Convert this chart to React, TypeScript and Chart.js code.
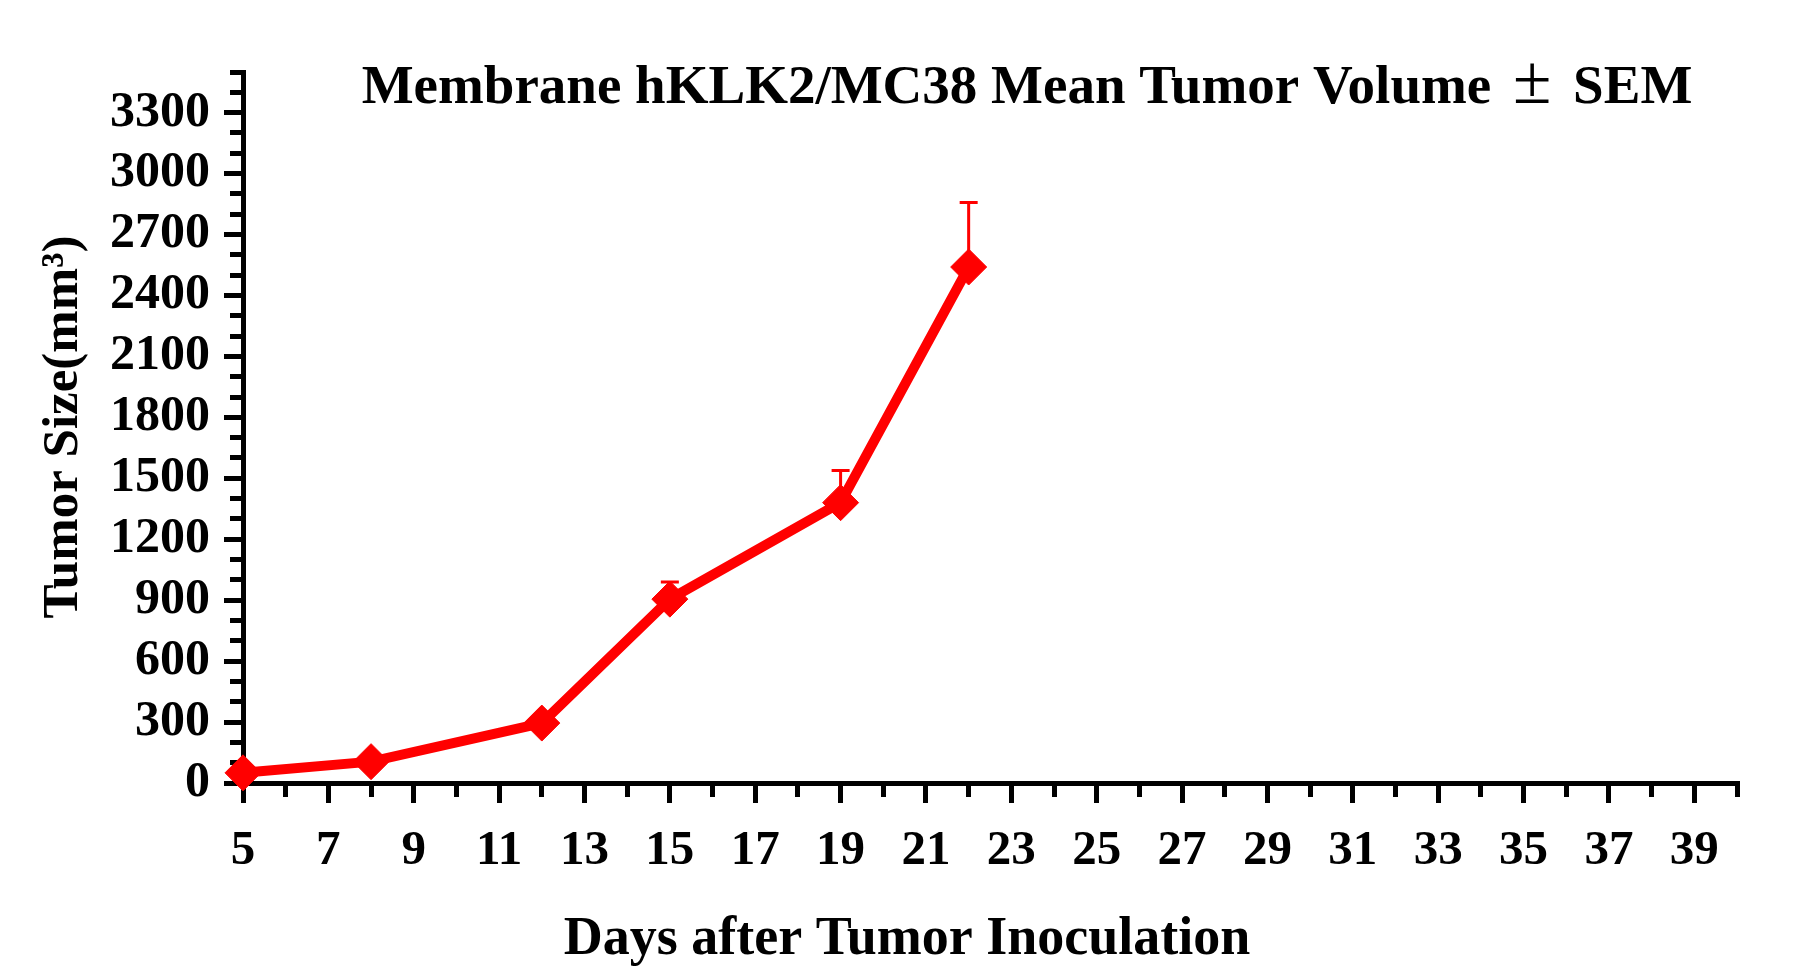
import { useEffect, useRef } from "react"
import { Chart, registerables } from "chart.js"

Chart.register(...registerables)

const days = [5, 8, 12, 15, 19, 22]
const meanVolume = [50, 105, 295, 905, 1380, 2540]
const semVolume = [8, 15, 35, 85, 158, 318]

const titleParts = ["Membrane hKLK2/MC38 Mean Tumor Volume ", "±", " SEM"]
const xTitle = "Days after Tumor Inoculation"
const yTitle = "Tumor Size(mm³)"

const X_MIN = 5
const X_MAX = 40
const Y_MIN = 0
const Y_MAX = 3500
const Y_LABEL_STEP = 300
const Y_LABEL_MAX = 3300

const RED = "#ff0000"
const FONT = "'Liberation Serif', 'Times New Roman', serif"

const errorBars = {
  id: "errorBars",
  beforeDatasetsDraw(chart: any) {
    const { ctx } = chart
    const x = chart.scales.x
    const y = chart.scales.y
    ctx.save()
    ctx.strokeStyle = RED
    ctx.lineWidth = 3
    days.forEach((d, i) => {
      const px = x.getPixelForValue(d)
      const py = y.getPixelForValue(meanVolume[i])
      const top = y.getPixelForValue(meanVolume[i] + semVolume[i])
      ctx.beginPath()
      ctx.moveTo(px, py)
      ctx.lineTo(px, top)
      ctx.moveTo(px - 9, top)
      ctx.lineTo(px + 9, top)
      ctx.stroke()
    })
    ctx.restore()
  },
}

const titles = {
  id: "titles",
  afterDraw(chart: any) {
    const { ctx } = chart
    ctx.save()
    ctx.fillStyle = "#000"
    ctx.textBaseline = "alphabetic"

    // title: the ± sign is set in a lighter, larger face with a bit more air around it
    const fonts = [`bold 55px ${FONT}`, `70px ${FONT}`, `bold 55px ${FONT}`]
    const gap = 8
    const widths = titleParts.map((t, i) => {
      ctx.font = fonts[i]
      return ctx.measureText(t).width
    })
    const total = widths.reduce((a, b) => a + b, 0) + gap * 2
    let tx = 1027 - total / 2
    ctx.textAlign = "left"
    titleParts.forEach((t, i) => {
      ctx.font = fonts[i]
      ctx.fillText(t, tx, 103)
      tx += widths[i] + (i < titleParts.length - 1 ? gap : 0)
    })

    ctx.textAlign = "center"
    ctx.font = `bold 54px ${FONT}`
    ctx.fillText(xTitle, 907, 954)
    ctx.font = `bold 51px ${FONT}`
    ctx.translate(77, 427)
    ctx.rotate(-Math.PI / 2)
    ctx.fillText(yTitle, 0, 0)
    ctx.restore()
  },
}

export default function App() {
  const canvasRef = useRef<HTMLCanvasElement | null>(null)

  useEffect(() => {
    document.body.style.margin = "0"
    if (!canvasRef.current) return

    const isYLabel = (v: number) => v % Y_LABEL_STEP === 0 && v <= Y_LABEL_MAX
    const isXLabel = (v: number) => v % 2 === 1

    const chart = new Chart(canvasRef.current, {
      type: "line",
      data: {
        datasets: [
          {
            data: days.map((d, i) => ({ x: d, y: meanVolume[i] })),
            borderColor: RED,
            backgroundColor: RED,
            borderWidth: 10,
            pointStyle: "rectRot",
            pointRadius: 18,
            pointBorderWidth: 1,
            pointBackgroundColor: RED,
            pointBorderColor: RED,
            tension: 0,
            clip: false,
          },
        ],
      },
      options: {
        animation: false,
        responsive: true,
        maintainAspectRatio: false,
        layout: { padding: { top: 72, right: 65, left: 0, bottom: 0 } },
        plugins: {
          legend: { display: false },
          tooltip: { enabled: false },
        },
        scales: {
          x: {
            type: "linear",
            min: X_MIN,
            max: X_MAX,
            afterFit: (s: any) => {
              s.height = 195
            },
            border: { display: true, color: "#000", width: 5 },
            grid: {
              drawOnChartArea: false,
              color: "#000",
              lineWidth: 5,
              tickColor: "#000",
              tickWidth: 5,
              tickLength: 20,
              tickBorderDash: (c: any) => (isXLabel(c.tick.value) ? [] : [11, 100]),
            },
            ticks: {
              stepSize: 1,
              autoSkip: false,
              maxRotation: 0,
              padding: 19,
              color: "#000",
              font: { family: FONT, size: 49, weight: "bold" },
              callback: (v: any) => (isXLabel(Number(v)) ? String(v) : ""),
            },
          },
          y: {
            type: "linear",
            min: Y_MIN,
            max: Y_MAX,
            afterFit: (s: any) => {
              s.width = 243
            },
            border: { display: true, color: "#000", width: 5 },
            grid: {
              drawOnChartArea: false,
              color: "#000",
              lineWidth: 5,
              tickColor: "#000",
              tickWidth: 5,
              tickLength: 19,
              tickBorderDash: (c: any) => (isYLabel(c.tick.value) ? [] : [0, 6, 100]),
            },
            ticks: {
              stepSize: 100,
              autoSkip: false,
              padding: 14,
              color: "#000",
              font: { family: FONT, size: 50, weight: "bold" },
              callback: (v: any) => (isYLabel(Number(v)) ? String(v) : ""),
            },
          },
        },
      },
      plugins: [errorBars, titles],
    })

    return () => {
      chart.destroy()
    }
  }, [])

  return (
    <div style={{ width: "1802px", height: "978px", position: "relative", background: "#fff" }}>
      <canvas ref={canvasRef}></canvas>
    </div>
  )
}
